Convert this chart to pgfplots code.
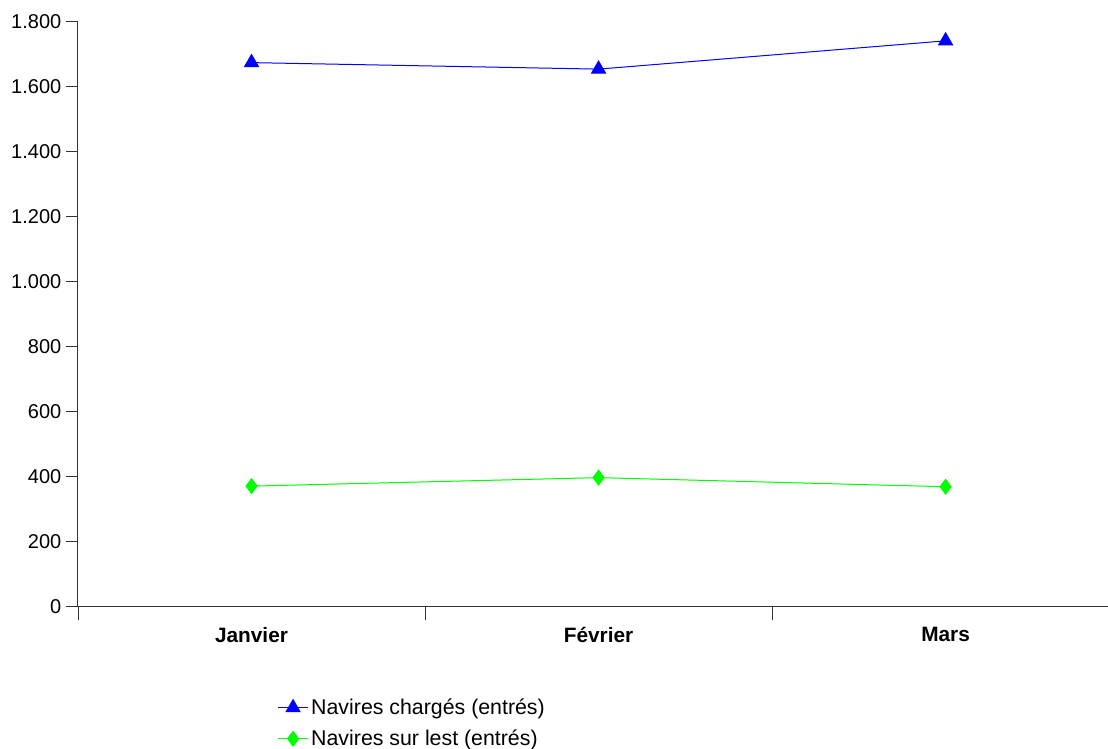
\documentclass[border=0pt]{standalone}
\usepackage{pgfplots}
\pgfplotsset{compat=1.18}
\usepackage{fontspec}
\setmainfont{Liberation Sans}
\begin{document}
\begin{tikzpicture}
\useasboundingbox (0,0) rectangle (831pt,561.75pt);
\begin{axis}[
  at={(58.5pt,106.5pt)}, anchor=south west,
  scale only axis,
  width=772.5pt, height=438.75pt,
  xmin=-0.5, xmax=2.468,
  ymin=0, ymax=1800,
  axis x line*=bottom, axis y line*=left,
  axis line style={black!80, line width=0.75pt, -},
  xtick={0,1,2},
  xticklabels={Janvier,Février,Mars},
  x tick label style={font=\fontsize{15.6}{18}\selectfont\bfseries, yshift=-2.5pt},
  major x tick style={draw=none},
  minor xtick={-0.5,0.5,1.5},
  minor x tick style={black!80, line width=0.5pt},
  minor tick length=10pt,
  xtick pos=bottom,
  ytick={0,200,...,1800},
  ytick pos=left,
  tick align=outside,
  major tick length=9pt,
  y tick style={black!80, line width=0.75pt},
  y tick label style={font=\fontsize{15}{18}\selectfont},
  /pgf/number format/.cd, 1000 sep={.}, assume math mode=true,
  /pgfplots/.cd,
  clip=false,
  legend style={draw=none, fill=none, at={(0.1935,-0.152)}, anchor=north west,
    font=\fontsize{16}{19}\selectfont, row sep=6pt, inner sep=0pt},
  legend cell align=left,
  legend image code/.code={
    \draw[#1, mark repeat=2, mark phase=2] plot coordinates {(0pt,0pt) (11.25pt,0pt) (22.5pt,0pt)};},
]
\addplot[color=blue, line width=0.75pt, mark=triangle*, mark size=6pt, mark options={solid, fill=blue}]
  coordinates {(0,1675) (1,1655) (2,1742)};
\addlegendentry{Navires chargés (entrés)}
\addplot[color=green, line width=0.75pt, mark=diamond*, mark size=5.5pt, mark options={solid, fill=green}]
  coordinates {(0,372) (1,398) (2,370)};
\addlegendentry{Navires sur lest (entrés)}
\end{axis}
\end{tikzpicture}
\end{document}
